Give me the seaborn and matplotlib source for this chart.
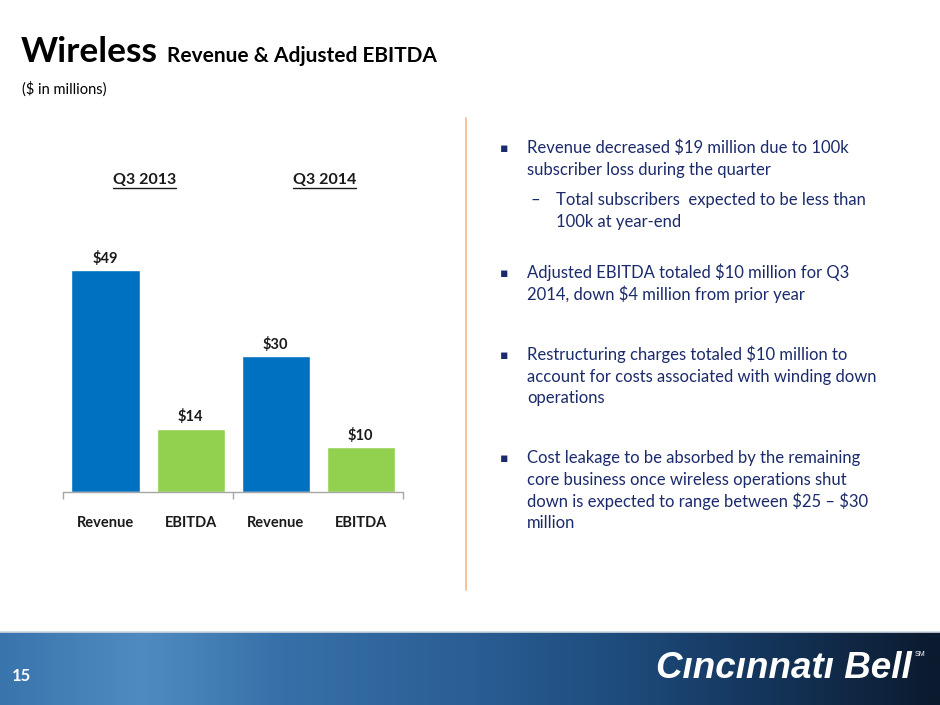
import numpy as np
import pandas as pd
import matplotlib
matplotlib.use("Agg")
import matplotlib.pyplot as plt
import matplotlib.transforms as mtransforms
from matplotlib.colors import LinearSegmentedColormap
import seaborn as sns

# ---------------- data ----------------
quarters = ["Q3 2013", "Q3 2013", "Q3 2014", "Q3 2014"]
metrics = ["Revenue", "EBITDA", "Revenue", "EBITDA"]
values = [49, 14, 30, 10]
quarter_order = ["Q3 2013", "Q3 2014"]
metric_order = ["Revenue", "EBITDA"]
metric_colors = {"Revenue": "#0070C0", "EBITDA": "#92D050"}

title_main = "Wireless"
title_sub = "Revenue & Adjusted EBITDA"
units_note = "($ in millions)"
bullets = [
    ("▪", ["Revenue decreased $19 million due to 100k", "subscriber loss during the quarter"]),
    ("–", ["Total subscribers  expected to be less than", "100k at year-end"]),
    ("▪", ["Adjusted EBITDA totaled $10 million for Q3", "2014, down $4 million from prior year"]),
    ("▪", ["Restructuring charges totaled $10 million to",
           "account for costs associated with winding down", "operations"]),
    ("▪", ["Cost leakage to be absorbed by the remaining",
           "core business once wireless operations shut",
           "down is expected to range between $25 – $30", "million"]),
]
page_number = "15"
brand = "Cıncınnatı Bell"

df = pd.DataFrame({"quarter": quarters, "metric": metrics, "value": values})

# ---------------- figure ----------------
sns.set_theme(style="white")
plt.rcParams["font.family"] = ["Lato", "DejaVu Sans"]
plt.rcParams["text.parse_math"] = False

W, H = 940, 705
fig = plt.figure(figsize=(W / 100, H / 100), dpi=100)
fig.patch.set_facecolor("white")


def fx(x):
    return x / W


def fy(y):
    return 1 - y / H


# ---- chart axes ----
ax_left, ax_right, ax_base, ax_top = 63, 403, 492, 240
ax = fig.add_axes([fx(ax_left), fy(ax_base), (ax_right - ax_left) / W, (ax_base - ax_top) / H])
sns.barplot(data=df, x="quarter", y="value", hue="metric", order=quarter_order,
            hue_order=metric_order, palette=metric_colors, width=1.0, gap=0.2,
            saturation=1, legend=False, ax=ax)
ax.set_xlim(-0.5, 1.5)
ax.set_ylim(0, 55.6)
for c in ax.containers:
    ax.bar_label(c, fmt="${:.0f}", padding=3, fontsize=10.5, fontweight="bold", color="#1a1a1a")

for s in ["top", "right", "left"]:
    ax.spines[s].set_visible(False)
ax.spines["bottom"].set_color("#a6a6a6")
ax.spines["bottom"].set_linewidth(1.0)
ax.set_yticks([])
ax.set_ylabel("")
ax.set_xlabel("")

# separators as major ticks, metric labels as minor ticks at bar centres
ax.set_xticks([-0.5, 0.5, 1.5])
ax.set_xticklabels(["", "", ""])
ax.tick_params(axis="x", which="major", length=5, width=1.0, color="#a6a6a6", direction="out", bottom=True)
centres, labels = [], []
for metric, cont in zip(metric_order, ax.containers):
    for p in cont:
        centres.append(p.get_x() + p.get_width() / 2)
        labels.append(metric)
order = np.argsort(centres)
ax.set_xticks([centres[i] for i in order], minor=True)
ax.set_xticklabels([labels[i] for i in order], minor=True, fontsize=10.5, fontweight="bold", color="#1a1a1a")
ax.tick_params(axis="x", which="minor", length=0, pad=17, bottom=True)

# quarter headers (underlined)
trans = mtransforms.blended_transform_factory(ax.transData, fig.transFigure)
renderer = fig.canvas.get_renderer()
for i, q in enumerate(quarter_order):
    t = fig.text(i - 0.02 + 0.06 * i, fy(180), q, transform=trans, ha="center", va="center",
                 fontsize=11.5, fontweight="bold", color="#1a1a1a")
    bb = t.get_window_extent(renderer=renderer)
    inv = fig.transFigure.inverted()
    (x0, y0), (x1, y1) = inv.transform([(bb.x0, bb.y0), (bb.x1, bb.y1)])
    fig.add_artist(plt.Line2D([x0, x1], [y0 - 0.0015, y0 - 0.0015], transform=fig.transFigure,
                              color="#1a1a1a", lw=1.0))

# ---- title ----
fig.text(fx(21), fy(62), title_main, fontsize=25.5, fontweight="bold", color="black", va="baseline")
fig.text(fx(167), fy(62), title_sub, fontsize=15, fontweight="bold", color="black", va="baseline")
fig.text(fx(22), fy(94), units_note, fontsize=10.5, color="black", va="baseline")

# ---- divider ----
fig.add_artist(plt.Line2D([fx(466), fx(466)], [fy(118), fy(590)], transform=fig.transFigure,
                          color="#F9BE92", lw=1.3))

# ---- bullet text ----
navy = "#1B2A6B"
baselines = [[153, 175], [205, 227], [278, 300], [360, 382, 403], [463, 485, 507, 528]]
for (mark, lines), ys in zip(bullets, baselines):
    if mark == "–":
        mx, tx = 530, 556
        fig.text(fx(mx), fy(ys[0]), mark, fontsize=12, color=navy, va="baseline")
    else:
        mx, tx = 500, 527
        fig.text(fx(mx), fy(ys[0]) + 0.002, mark, fontsize=9, color=navy, va="baseline",
                 family=["DejaVu Sans"])
    for line, y in zip(lines, ys):
        fig.text(fx(tx), fy(y), line, fontsize=12, color=navy, va="baseline")

# ---- footer ----
fax = fig.add_axes([0, 0, 1, (H - 632) / H])
cmap = LinearSegmentedColormap.from_list("footer", [
    (0.00, "#3a74ad"), (0.15, "#4f8bc0"), (0.30, "#3770a8"), (0.50, "#2a5e94"),
    (0.65, "#1f4d7e"), (0.78, "#163a63"), (1.00, "#0b1a2e")])
grad = np.linspace(0, 1, 512)[None, :]
fax.imshow(grad, aspect="auto", cmap=cmap, extent=[0, 1, 0, 1])
fax.set_xlim(0, 1)
fax.set_ylim(0, 1)
fax.axis("off")
fig.add_artist(plt.Line2D([0, 1], [fy(632), fy(632)], transform=fig.transFigure, color="#d0d8e0", lw=1.2))
fig.text(fx(12), fy(676), page_number, fontsize=12, fontweight="bold", color="white", va="center")
fig.text(fx(912), fy(668), brand, fontsize=26.5, fontweight="bold", style="italic", color="white",
         va="center", ha="right", family=["Liberation Sans", "DejaVu Sans"])
fig.text(fx(915), fy(655), "SM", fontsize=5, color="white", va="center", ha="left",
         family=["Liberation Sans", "DejaVu Sans"])

fig.savefig("out.png", dpi=100, facecolor="white")
